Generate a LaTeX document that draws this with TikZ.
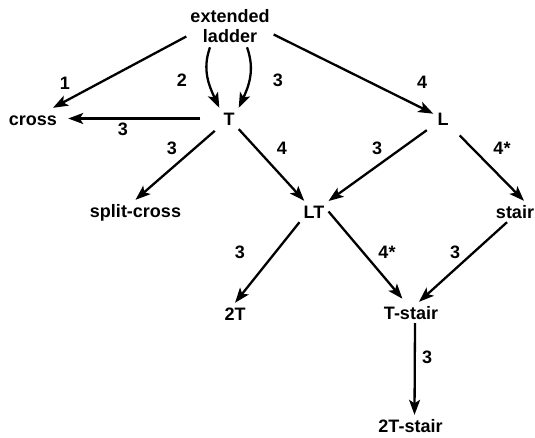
\documentclass[tikz,border=0pt]{standalone}
\usepackage{fontspec}
\setmainfont{Liberation Sans}
\usetikzlibrary{arrows.meta}

\tikzset{
    piece/.style={font=\fontsize{18}{20}\selectfont\bfseries, text height=13pt, text depth=0pt, inner sep=4pt},
    num/.style={font=\fontsize{18}{20}\selectfont\bfseries, inner sep=1pt},
    move/.style={-{Stealth[length=15pt, width=11pt, inset=3.5pt]}, line width=2.3pt}
}

\begin{document}
\begin{tikzpicture}[x=1pt, y=1pt]
        \useasboundingbox (0,0) rectangle (535,-437);

        % The starting shape at the top
        \node[font=\fontsize{18}{20}\selectfont\bfseries, align=center, inner sep=4pt] (ext) at (230,-26.5) {extended\\ladder};

        % Shapes on the second row
        \node[piece] (cross) at (33,-118.5) {cross};
        \node[piece] (T) at (229,-118.5) {T};
        \node[piece] (L) at (443,-118.5) {L};

        % Shapes on the third row
        \node[piece] (split) at (135.5,-210.5) {split-cross};
        \node[piece] (LT) at (314,-211.5) {LT};
        \node[piece] (stair) at (515,-211.5) {stair};

        % Shapes at the bottom
        \node[piece] (2T) at (235,-313.5) {2T};
        \node[piece] (Tstair) at (411,-312.5) {T-stair};
        \node[piece] (2Tstair) at (410.5,-425.5) {2T-stair};

        % Moves out of the extended ladder
        \draw[move] ([yshift=-10pt]ext.west) -- (cross);
        \draw[move] ([xshift=-20pt]ext.south) to[out=250, in=115] (T.north west);
        \draw[move] ([xshift=17pt]ext.south) to[out=290, in=65] (T.north east);
        \draw[move] ([yshift=-8pt]ext.east) -- (L);

        % Moves out of T and L
        \draw[move, shorten <=19pt, shorten >=7pt] (T) -- (cross);
        \draw[move, shorten <=6pt] (T) -- (split.north);
        \draw[move] (T) -- (LT);
        \draw[move, shorten <=8pt] (L) -- (LT);
        \draw[move, shorten <=10pt] (L) -- ([xshift=9pt]stair.north);

        % Moves out of LT and stair
        \draw[move] (LT.south west) -- (2T.north);
        \draw[move, shorten >=4pt] (LT.east) -- ([xshift=-6pt]Tstair.north);
        \draw[move] ([xshift=-8pt]stair.south) -- ([xshift=8pt]Tstair.north);
        \draw[move] ([xshift=4pt]Tstair.south) -- ([xshift=4pt]2Tstair.north);

        % Labels of the moves
        \node[num] (n1) at (65,-83) {1};
        \node[num] (n2) at (182,-80) {2};
        \node[num] (n3) at (278,-80) {3};
        \node[num] (n4) at (422,-82) {4};
        \node[num] (n5) at (123,-129) {3};
        \node[num] (n6) at (172,-148) {3};
        \node[num] (n7) at (282,-148) {4};
        \node[num] (n8) at (377,-148) {3};
        \node[num] (n9) at (502,-148) {4*};
        \node[num] (n10) at (240,-252) {3};
        \node[num] (n11) at (387,-252) {4*};
        \node[num] (n12) at (455,-252) {3};
        \node[num] (n13) at (427,-357) {3};

    \end{tikzpicture}
\end{document}
